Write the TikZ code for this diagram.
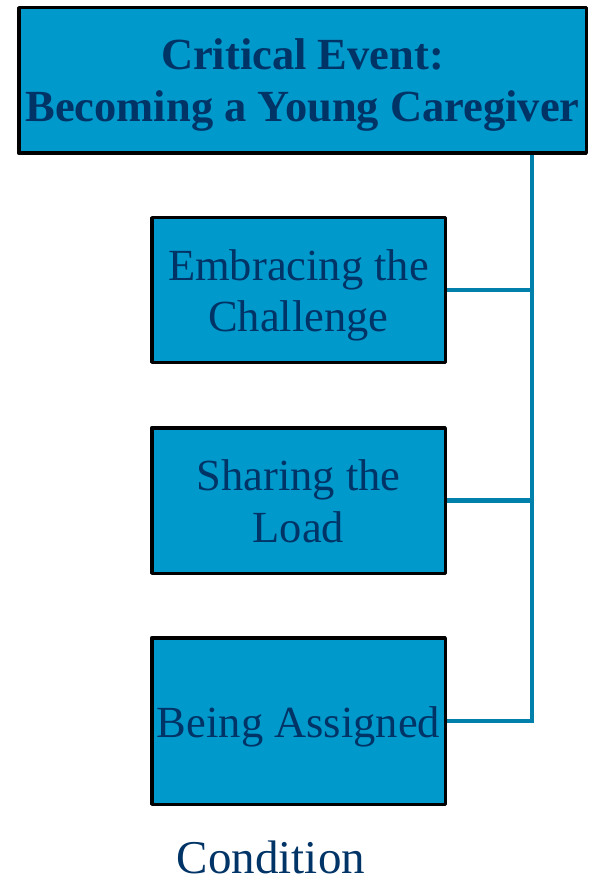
\documentclass[tikz,border=0pt]{standalone}
\usepackage{fontspec}
\setmainfont{Liberation Serif}
\pgfdeclarelayer{bg}
\pgfsetlayers{bg,main}
\definecolor{boxfill}{RGB}{0,153,204}
\definecolor{txtblue}{RGB}{0,51,102}
\definecolor{connblue}{RGB}{0,128,170}
\tikzset{
  box/.style={draw=black, line width=3.5pt, fill=boxfill, rectangle, inner sep=0pt, line join=round},
  txt/.style={anchor=base, inner sep=0pt, text=txtblue, font=\fontsize{44.5}{51}\selectfont},
  ttl/.style={anchor=base, inner sep=0pt, text=txtblue, font=\fontsize{44.5}{52}\selectfont\bfseries},
  conn/.style={draw=connblue, line width=4.5pt}
}
\begin{document}
\begin{tikzpicture}[x=1pt,y=-1pt]
\useasboundingbox (0,0) rectangle (600,882);
\node[box, minimum width=567.5pt, minimum height=145.5pt] (title) at (302.5,80.5) {};
\node[box, minimum width=293.5pt, minimum height=144.5pt] (emb) at (298.5,290) {};
\node[box, minimum width=293.5pt, minimum height=145.5pt] (share) at (298.5,500.5) {};
\node[box, minimum width=293.5pt, minimum height=166.5pt] (assigned) at (298.5,721) {};
\node[ttl] (title1) at (302.5,70) {Critical Event:};
\node[ttl] (title2) at (302.5,122) {Becoming a Young Caregiver};
\node[txt] (emb1) at (298.5,280) {Embracing the};
\node[txt] (emb2) at (298.5,331) {Challenge};
\node[txt] (share1) at (298.5,490) {Sharing the};
\node[txt] (share2) at (298.5,542) {Load};
\node[txt] (assigned1) at (298.5,737) {Being Assigned};
\node[txt, font=\fontsize{47}{54}\selectfont] (cond) at (271,873) {Condition};
\coordinate (bus) at (532,0);
\begin{pgfonlayer}{bg}
\draw[conn] (title.south -| bus) |- (assigned.east);
\draw[conn] (emb.east) -- (emb.east -| bus);
\draw[conn] (share.east) -- (share.east -| bus);
\end{pgfonlayer}
\end{tikzpicture}
\end{document}
